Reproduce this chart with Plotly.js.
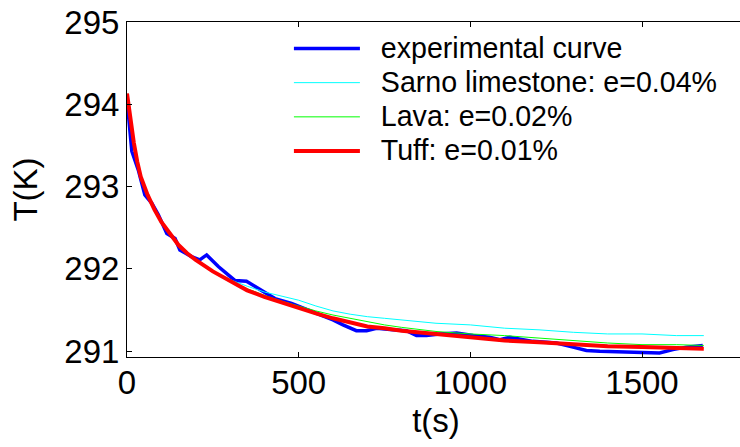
<!DOCTYPE html>
<html>
<head>
<meta charset="utf-8">
<script src="https://cdn.plot.ly/plotly-3.0.1.min.js"></script>
<style>
html,body{margin:0;padding:0;overflow:hidden;background:#fff;}
#chart{width:746px;height:447px;}
</style>
</head>
<body>
<div id="chart"></div>
<script>
// Experimental curve
var timeExp = [0,14,33,52,72,91,116,140,154,188,212,232,266,314,348,382,431,479,503,562,600,629,668,698,727,774,814,843,872,911,960,1008,1056,1086,1115,1182,1251,1299,1338,1377,1444,1493,1551,1590,1629,1677];
var tempExp = [294.06,293.43,293.20,292.90,292.80,292.66,292.43,292.37,292.23,292.15,292.11,292.17,292.03,291.86,291.85,291.76,291.64,291.58,291.54,291.44,291.38,291.32,291.25,291.25,291.28,291.26,291.25,291.19,291.19,291.21,291.22,291.19,291.17,291.14,291.17,291.12,291.10,291.05,291.01,291.00,290.99,290.98,290.98,291.02,291.05,291.07];

// Model curves
var timeModel = [0,10,20,30,40,60,80,100,125,150,175,200,250,300,350,400,450,500,550,600,650,700,750,800,900,1000,1100,1200,1300,1400,1500,1600,1680];
var tempSarno = [294.13,293.82,293.53,293.30,293.12,292.90,292.72,292.57,292.42,292.29,292.19,292.11,291.98,291.87,291.79,291.72,291.67,291.62,291.55,291.49,291.45,291.42,291.40,291.38,291.34,291.32,291.28,291.26,291.23,291.21,291.21,291.19,291.19];
var tempLava  = [294.13,293.82,293.53,293.30,293.12,292.90,292.72,292.57,292.42,292.29,292.19,292.11,291.97,291.86,291.76,291.68,291.61,291.55,291.49,291.44,291.40,291.36,291.32,291.29,291.24,291.21,291.19,291.16,291.13,291.10,291.08,291.08,291.07];
var tempTuff  = [294.13,293.82,293.53,293.30,293.12,292.90,292.72,292.57,292.42,292.29,292.19,292.11,291.97,291.85,291.74,291.66,291.59,291.53,291.46,291.40,291.35,291.30,291.28,291.25,291.21,291.17,291.13,291.11,291.08,291.06,291.05,291.04,291.03];

var seriesNames = ['experimental curve','Sarno limestone: e=0.04%','Lava: e=0.02%','Tuff: e=0.01%'];
var xTicks = [0,500,1000,1500];
var yTicks = [291,292,293,294,295];

function lbl(s){ return '<span style="font-size:28.6px">\u00A0\u00A0' + s + '</span>'; }

var traces = [
  {x: timeExp, y: tempExp, name: lbl(seriesNames[0]), mode:'lines', line:{color:'#0000ff', width:3.5}},
  {x: timeModel, y: tempSarno, name: lbl(seriesNames[1]), mode:'lines', line:{color:'#00ffff', width:1}},
  {x: timeModel, y: tempLava, name: lbl(seriesNames[2]), mode:'lines', line:{color:'#00ff00', width:1}},
  {x: timeModel, y: tempTuff, name: lbl(seriesNames[3]), mode:'lines', line:{color:'#ff0000', width:4}}
];

var fontFam = 'Arial, "Liberation Sans", sans-serif';
var layout = {
  width: 746, height: 447,
  margin: {l:127, r:1, t:22, b:90},
  paper_bgcolor:'#fff', plot_bgcolor:'#fff',
  font: {family: fontFam, color:'#000', size:33},
  showlegend: true,
  legend: {x: 0.262, y: 0.987, xanchor:'left', yanchor:'top', bgcolor:'rgba(0,0,0,0)', borderwidth:0,
           font:{family: fontFam, size:24, color:'#000'}, itemwidth: 66, tracegroupgap:0},
  xaxis: {range:[0,1800], tickvals: xTicks, ticktext: xTicks.map(String), showgrid:false, zeroline:false,
          showline:true, linecolor:'#000', linewidth:1, mirror:'ticks', ticks:'inside', ticklen:5, tickcolor:'#000',
          ticklabelstandoff:-4,
          tickfont:{size:33}, title:{text:'t(s)', font:{size:33}, standoff:9}},
  yaxis: {range:[290.93,295.0], tickvals: yTicks, ticktext: yTicks.map(String), showgrid:false, zeroline:false,
          showline:true, linecolor:'#000', linewidth:1, mirror:'ticks', ticks:'inside', ticklen:5, tickcolor:'#000',
          tickfont:{size:33}, title:{text:'T(K)', font:{size:33}, standoff:16}}
};

Plotly.newPlot('chart', traces, layout, {displayModeBar:false, staticPlot:true});
</script>
</body>
</html>
